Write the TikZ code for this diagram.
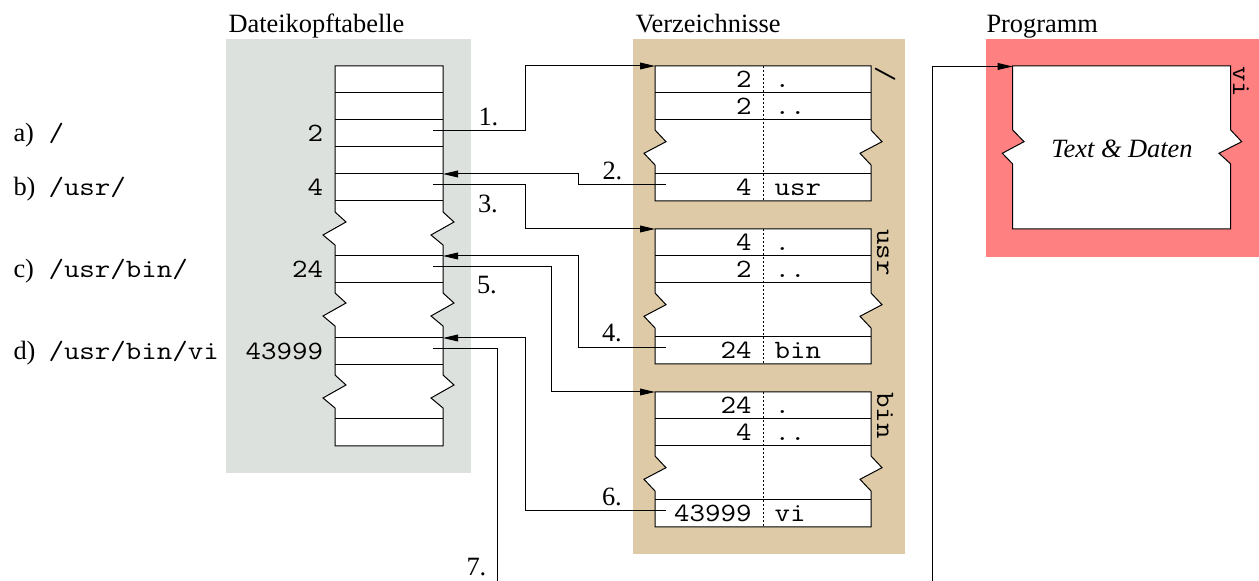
\documentclass[tikz,border=0pt]{standalone}
\usepackage{fontspec}
\setmainfont{Liberation Serif}
\setmonofont[FakeStretch=1.14]{Latin Modern Mono}
\usetikzlibrary{arrows.meta}
\definecolor{bggray}{RGB}{221,225,221}
\definecolor{bgtan}{RGB}{222,202,166}
\definecolor{bgred}{RGB}{255,128,128}
\begin{document}
\begin{tikzpicture}[x=0.5pt,y=-0.5pt,line width=0.5pt,
  ttl/.style={font=\fontsize{13.2}{15}\selectfont, anchor=base west, inner sep=0},
  mono/.style={font=\ttfamily\fontsize{13.2}{15}\selectfont, inner sep=0},
  num/.style={mono, anchor=base east},
  nam/.style={mono, anchor=base west},
  side/.style={mono, rotate=-90, anchor=base west},
  arr/.style={-{Triangle[length=7.5pt,width=3.4pt]}},
  cell/.style={draw, fill=white},
]
\useasboundingbox (0,0) rectangle (1259,581);
% backgrounds
\fill[bggray] (226,39) rectangle (471,473);
\fill[bgtan] (633,39) rectangle (905,554);
\fill[bgred] (986,39) rectangle (1259,257);
% titles
\node[ttl] (tDK) at (228,33) {Dateikopftabelle};
\node[ttl] (tVZ) at (635,33) {Verzeichnisse};
\node[ttl] (tPG) at (986,33) {Programm};
% left table
\draw[cell] (335,66) -- (335,212) -- (346,222) -- (323,235) -- (335,245) -- (335,293) -- (346,303) -- (323,316) -- (335,326) -- (335,375) -- (346,385) -- (323,398) -- (335,408) -- (335,446) -- (443,446) -- (443,408) -- (431,398) -- (454,385) -- (443,375) -- (443,326) -- (431,316) -- (454,303) -- (443,293) -- (443,245) -- (431,235) -- (454,222) -- (443,212) -- (443,66) -- cycle;
\foreach \y in {93,120,147,174,201,256,283,338,365,419}
  \draw (335,\y) -- (443,\y);
\node[num] (n2) at (323.5,142) {2};
\node[num] (n4) at (323.5,196) {4};
\node[num] (n24) at (323.5,278) {24};
\node[num] (n43999) at (323.5,360) {43999};
% path labels
\node[ttl] (la) at (13,142) {a)};
\node[nam] (pa) at (48,142) {/};
\node[ttl] (lb) at (13,196) {b)};
\node[nam] (pb) at (48,196) {/usr/};
\node[ttl] (lc) at (13,278) {c)};
\node[nam] (pc) at (48,278) {/usr/bin/};
\node[ttl] (ld) at (13,360) {d)};
\node[nam] (pd) at (48,360) {/usr/bin/vi};
% table connection points
\coordinate (ta1) at (433,131);
\coordinate (ta2) at (433,185);
\coordinate (ta3) at (433,267);
\coordinate (ta4) at (433,349);
\coordinate (tin2) at (443,174);
\coordinate (tin3) at (443,256);
\coordinate (tin4) at (443,338);
% directory boxes
\foreach \T/\na/\nb/\nc/\cname/\k in {66/2/2/4/usr/1, 229/4/2/24/bin/2, 392/24/4/43999/vi/3} {
  \begin{scope}[shift={(0,\T)}]
    \draw[cell] (655,0) -- (655,64) -- (666,75.7) -- (644,87.3) -- (655,99) -- (655,135) -- (871,135) -- (871,99) -- (860,87.3) -- (882,75.7) -- (871,64) -- (871,0) -- cycle;
    \foreach \y in {27,54,108} \draw (655,\y) -- (871,\y);
    \draw[dash pattern=on 1pt off 1pt] (763.3,0) -- (763.3,135);
    \node[num] (da\k) at (752,22) {\na};
    \node[nam] (dda\k) at (774,22) {.};
    \node[num] (db\k) at (752,49) {\nb};
    \node[nam] (ddb\k) at (774,49) {..};
    \node[num] (dc\k) at (752,130) {\nc};
    \node[nam] (ddc\k) at (774,130) {\cname};
    \coordinate (dtop\k) at (655,0);
    \coordinate (dout\k) at (666,119);
  \end{scope}
}
\node[side] (s1) at (877,66) {/};
\node[side] (s2) at (877,229) {usr};
\node[side] (s3) at (877,392) {bin};
% program box
\draw[cell] (1012.7,66) -- (1012.7,130) -- (1024,141.7) -- (1002.3,153.3) -- (1012.7,164) -- (1012.7,229) -- (1230.7,229) -- (1230.7,164) -- (1219,153.3) -- (1241.7,141.7) -- (1230.7,130) -- (1230.7,66) -- cycle;
\node[font=\itshape\fontsize{13.2}{15}\selectfont, anchor=base, inner sep=0] (td) at (1122,158) {Text \& Daten};
\node[side] (s4) at (1233,66) {vi};
\coordinate (pin) at (1012.7,66.5);
\coordinate (e7a) at (497,600);
\coordinate (e7b) at (932,600);
% connectors
\draw[arr] (ta1) -- ++(92,0) |- (dtop1);
\draw[arr] (dout1) -- ++(-88,0) |- (tin2);
\draw[arr] (ta2) -- ++(92,0) |- (dtop2);
\draw[arr] (dout2) -- ++(-88,0) |- (tin3);
\draw[arr] (ta3) -- ++(118.7,0) |- (dtop3);
\draw[arr] (dout3) -- ++(-141,0) |- (tin4);
\draw (ta4) -- ++(64,0) -- (e7a);
\draw[arr] (e7b) |- (pin);
% step labels
\node[ttl] (k1) at (478,126) {1.};
\node[ttl] (k2) at (602,179.5) {2.};
\node[ttl] (k3) at (477.5,212.5) {3.};
\node[ttl] (k4) at (601.5,341.5) {4.};
\node[ttl] (k5) at (476.5,293.5) {5.};
\node[ttl] (k6) at (601.5,505.5) {6.};
\node[ttl] (k7) at (466,576) {7.};
\end{tikzpicture}
\end{document}
